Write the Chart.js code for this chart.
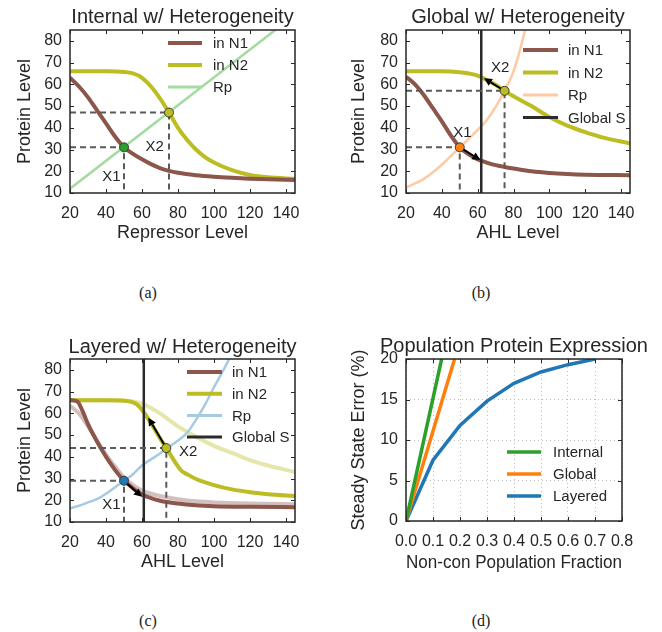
<!DOCTYPE html>
<html>
<head>
<meta charset="utf-8">
<script src="https://cdn.jsdelivr.net/npm/chart.js@4.4.1/dist/chart.umd.min.js"></script>
<style>
  body { margin:0; background:#fff; width:662px; height:632px; position:relative; overflow:hidden; }
  canvas { position:absolute; }
  .cap { position:absolute; font-family:"Liberation Serif","Times New Roman",serif; font-size:16px; color:#222; transform:translate(-50%,-50%); }
</style>
</head>
<body>
<canvas id="ca" width="331" height="265" style="left:0;top:0"></canvas>
<canvas id="cb" width="331" height="265" style="left:331px;top:0"></canvas>
<canvas id="cc" width="331" height="265" style="left:0;top:329px"></canvas>
<canvas id="cd" width="331" height="265" style="left:331px;top:329px"></canvas>
<div class="cap" style="left:148px;top:293px">(a)</div>
<div class="cap" style="left:481px;top:293px">(b)</div>
<div class="cap" style="left:148px;top:621px">(c)</div>
<div class="cap" style="left:481px;top:621px">(d)</div>
<script>
// ---- data (a) internal
const aN1x = [20,25,30,35,40,45,50,55,60,65,70,75,80,90,100,110,120,130,145];
const aN1y = [63,59,54,48,42,36,31,28,25.5,23.3,21.5,20.2,19.3,18.2,17.5,17,16.6,16.3,16];
const aN2x = [20,40,50,55,60,65,70,75,80,85,90,95,100,110,120,130,145];
const aN2y = [66,66,65.7,65,63,59,53.5,47,40,34.5,30,26.5,24,20.5,18.3,17.2,16.5];
const aRpx = [20,145];
const aRpy = [12,92];
const aMarks = [[50,31],[75,47]];
const aLabels = [['X1',43,17.5],['X2',67,31.3]];

// ---- data (b) global
const bN1x = [20,25,30,35,40,45,50,55,60,65,70,75,80,90,100,110,120,145];
const bN1y = [63.5,60,55,49,43,36.5,31,27.8,25.5,24,22.8,22,21.3,20,19.2,18.7,18.4,18.2];
const bN2x = [20,40,50,55,60,65,70,75,80,90,100,110,120,130,145];
const bN2y = [66,66,65.6,65,64,62,59.8,57,54.5,50,45,41,38,35.5,32.8];
const bRpx = [20,30,35,40,50,60,65,70,75,80,84,87];
const bRpy = [12.5,16.5,19.5,23,31,39,43.5,49.5,57,66,77,87];
const bGlobalS = 62;
const bMarks = [[50,31],[75,57]];
const bArrows = [[50,31,61.5,25.2],[75,57,63.5,62.8]];
const bLabels = [['X1',51.5,37.5],['X2',72.6,67.4]];

// ---- data (c) layered
const cN1x = [20,24,27,30,35,40,45,50,55,60,65,70,80,90,100,120,145];
const cN1y = [66,65.5,61,55,47,40,34,29,25.5,22.7,21,19.8,18.5,17.7,17.3,17,16.8];
const cN1fx = [20,25,30,35,40,45,50,55,60,65,70,80,90,100,120,145];
const cN1fy = [63.5,60,54,47.5,41,35.5,30.5,27,24.5,23,22,20.5,19.5,19,18.5,18.2];
const cN2x = [20,40,50,55,58,61,65,70,74,78,82,85,90,100,110,120,130,145];
const cN2y = [66,66,65.8,65,63.5,60.5,55.5,48.5,43.5,38,33.5,32,29.8,27,25,23.7,22.8,22];
const cN2fx = [20,45,55,60,65,70,75,80,90,100,110,120,130,145];
const cN2fy = [66,66,65.5,64.5,62.5,60,57,54,49.2,45,41.8,38.5,36,33];
const cRpx = [20,25,30,35,40,45,50,55,60,65,70,74,80,85,90,95,100,105,109];
const cRpy = [16.3,17.5,19,20.5,23,26,29,32,36,38.8,41.5,44,47.5,51,57,64,72,79.5,86];
const cGlobalS = 61;
const cMarks = [[50,29],[73.5,44]];
const cArrows = [[50,29,60,21.6],[73.5,44,63.5,58]];
const cLabels = [['X1',43,17.8],['X2',85.7,42.4]];

// ---- data (d) population
const dInternalX = [0,0.132];
const dInternalY = [0,20];
const dGlobalX = [0,0.18];
const dGlobalY = [0,20];
const dLayeredX = [0,0.1,0.2,0.3,0.4,0.5,0.6,0.7];
const dLayeredY = [0,7.5,11.8,14.8,17,18.4,19.3,20];

const FONT = "'Liberation Sans', Arial, Helvetica, sans-serif";
const INK = '#262626';
const BROWN = '#8c564b', OLIVE = '#bcbd22';
Chart.defaults.font.family = FONT;
Chart.defaults.color = INK;

const pts = (xs, ys) => xs.map((x, i) => ({x: x, y: ys[i]}));

function curve(label, xs, ys, color, width, order) {
  return {label: label, data: pts(xs, ys), borderColor: color, borderWidth: width, pointRadius: 0,
          cubicInterpolationMode: 'monotone', fill: false, order: order};
}
function polyline(label, xs, ys, color, width, order) {
  return {label: label, data: pts(xs, ys), borderColor: color, borderWidth: width, pointRadius: 0,
          tension: 0, fill: false, order: order};
}
function guide(x, y) {
  return {data: [{x: 20, y: y}, {x: x, y: y}, {x: x, y: 10}], borderColor: '#5a5a5a', borderWidth: 2,
          borderDash: [6, 4], pointRadius: 0, tension: 0, order: 1};
}
function vline(label, x) {
  return {label: label, data: [{x: x, y: 0}, {x: x, y: 100}], borderColor: '#2b2b2b', borderWidth: 2.5,
          pointRadius: 0, order: 2};
}
function marks(m, colors) {
  return {data: m.map(p => ({x: p[0], y: p[1]})), showLine: false, pointRadius: 4.5,
          pointBackgroundColor: colors, pointBorderColor: '#3a3a3a', pointBorderWidth: 1, order: 0};
}

const panelPlugin = {
  id: 'panel',
  afterDatasetsDraw(chart, args, o) {
    const {ctx, scales: {x, y}} = chart;
    ctx.save();
    ctx.strokeStyle = '#000'; ctx.fillStyle = '#000'; ctx.lineWidth = 2;
    (o.arrows || []).forEach(a => {
      const x0 = x.getPixelForValue(a[0]), y0 = y.getPixelForValue(a[1]);
      const x1 = x.getPixelForValue(a[2]), y1 = y.getPixelForValue(a[3]);
      const ang = Math.atan2(y1 - y0, x1 - x0);
      const sx = x0 + Math.cos(ang) * 4.5, sy = y0 + Math.sin(ang) * 4.5;
      const hl = 8, hw = 4;
      const bx = x1 - Math.cos(ang) * hl, by = y1 - Math.sin(ang) * hl;
      ctx.beginPath(); ctx.moveTo(sx, sy); ctx.lineTo(bx, by); ctx.stroke();
      ctx.beginPath();
      ctx.moveTo(x1, y1);
      ctx.lineTo(bx + Math.sin(ang) * hw, by - Math.cos(ang) * hw);
      ctx.lineTo(bx - Math.sin(ang) * hw, by + Math.cos(ang) * hw);
      ctx.closePath(); ctx.fill();
    });
    ctx.restore();
  },
  afterDraw(chart, args, o) {
    const {ctx, chartArea: a, scales: {x, y}} = chart;
    ctx.save();
    // frame with inward ticks
    ctx.strokeStyle = INK; ctx.lineWidth = 1.5;
    ctx.strokeRect(a.left, a.top, a.right - a.left, a.bottom - a.top);
    ctx.lineWidth = 1;
    ctx.beginPath();
    x.ticks.forEach(t => {
      const px = Math.round(x.getPixelForValue(t.value)) + 0.5;
      ctx.moveTo(px, a.bottom); ctx.lineTo(px, a.bottom - 4);
      ctx.moveTo(px, a.top); ctx.lineTo(px, a.top + 4);
    });
    y.ticks.forEach(t => {
      const py = Math.round(y.getPixelForValue(t.value)) + 0.5;
      ctx.moveTo(a.left, py); ctx.lineTo(a.left + 4, py);
      ctx.moveTo(a.right, py); ctx.lineTo(a.right - 4, py);
    });
    ctx.stroke();
    // title
    ctx.fillStyle = INK;
    ctx.textAlign = 'center'; ctx.textBaseline = 'middle';
    ctx.font = '20px ' + FONT;
    ctx.fillText(o.title, (a.left + a.right) / 2, o.titleY);
    // point labels
    ctx.font = '15px ' + FONT;
    (o.labels || []).forEach(l => ctx.fillText(l[0], x.getPixelForValue(l[1]), y.getPixelForValue(l[2])));
    // legend inside the axes
    const lg = o.legend;
    ctx.textAlign = 'left';
    lg.items.forEach((name, i) => {
      const ds = chart.data.datasets.find(d => d.label === name);
      const yy = lg.y + i * lg.dy;
      ctx.strokeStyle = ds.borderColor; ctx.lineWidth = Math.max(ds.borderWidth, 3);
      ctx.beginPath(); ctx.moveTo(lg.x0, yy); ctx.lineTo(lg.x1, yy); ctx.stroke();
      ctx.fillStyle = INK;
      ctx.fillText(name, lg.tx, yy + 1);
    });
    ctx.restore();
  }
};

function axis(g, which, opts) {
  const lh = 18 * 1.2 / 2;
  const base = {
    type: 'linear', min: opts.min, max: opts.max,
    grid: opts.grid || {display: false, drawTicks: false},
    border: opts.border || {display: false},
    ticks: {stepSize: opts.step, includeBounds: false, autoSkip: false, maxRotation: 0,
            padding: which === 'x' ? 11 : 8, font: {size: 16}, color: INK, callback: opts.fmt},
    title: {display: true, text: opts.title, font: {size: 18}, padding: 0, color: INK}
  };
  if (which === 'x') base.afterFit = s => { s.height = g.xTitleY + lh - g.bottom; };
  else base.afterFit = s => { s.width = g.left - (g.yTitleX - lh); };
  return base;
}

function panel(id, g, datasets, xo, yo, po) {
  const lh = 18 * 1.2 / 2;
  return new Chart(document.getElementById(id), {
    type: 'line',
    data: {datasets: datasets},
    options: {
      responsive: false, animation: false, events: [],
      layout: {padding: {left: g.yTitleX - lh, right: 331 - g.right, top: g.top, bottom: 265 - (g.xTitleY + lh)}},
      scales: {x: axis(g, 'x', xo), y: axis(g, 'y', yo)},
      plugins: {legend: {display: false}, tooltip: {enabled: false}, panel: Object.assign({titleY: g.titleY}, po)}
    },
    plugins: [panelPlugin]
  });
}

const protX = t => ({min: 20, max: 145, step: 20, title: t});
const protY = {min: 10, max: 85, step: 10, title: 'Protein Level'};

// (a)
panel('ca', {left:70, right:295, top:30, bottom:193, yTitleX:25, xTitleY:233, titleY:17}, [
  marks(aMarks, ['#2ca02c', OLIVE]),
  guide(aMarks[0][0], aMarks[0][1]),
  guide(aMarks[1][0], aMarks[1][1]),
  curve('in N1', aN1x, aN1y, BROWN, 4, 3),
  curve('in N2', aN2x, aN2y, OLIVE, 4, 4),
  curve('Rp', aRpx, aRpy, '#a3dba0', 2.5, 5)
], protX('Repressor Level'), protY, {
  title: 'Internal w/ Heterogeneity', labels: aLabels,
  legend: {items: ['in N1', 'in N2', 'Rp'], x0: 168, x1: 202, tx: 213, y: 43, dy: 22}
});

// (b)
panel('cb', {left:75, right:299, top:30, bottom:193, yTitleX:28, xTitleY:233, titleY:17}, [
  marks(bMarks, ['#ff7f0e', OLIVE]),
  guide(bMarks[0][0], bMarks[0][1]),
  guide(bMarks[1][0], bMarks[1][1]),
  vline('Global S', bGlobalS),
  curve('in N1', bN1x, bN1y, BROWN, 4, 3),
  curve('in N2', bN2x, bN2y, OLIVE, 4, 4),
  curve('Rp', bRpx, bRpy, '#ffc9a1', 2.5, 5)
], protX('AHL Level'), protY, {
  title: 'Global w/ Heterogeneity', labels: bLabels, arrows: bArrows,
  legend: {items: ['in N1', 'in N2', 'Rp', 'Global S'], x0: 192, x1: 227, tx: 237, y: 50, dy: 22.5}
});

// (c)
panel('cc', {left:70, right:295, top:30, bottom:193, yTitleX:25, xTitleY:233, titleY:18}, [
  marks(cMarks, ['#1f77b4', OLIVE]),
  guide(cMarks[0][0], cMarks[0][1]),
  guide(cMarks[1][0], cMarks[1][1]),
  vline('Global S', cGlobalS),
  curve('in N1', cN1x, cN1y, BROWN, 4, 3),
  curve('in N2', cN2x, cN2y, OLIVE, 4, 4),
  curve('Rp', cRpx, cRpy, '#a6cae2', 2.5, 5),
  curve('', cN1fx, cN1fy, 'rgba(140,86,75,0.38)', 4, 6),
  curve('', cN2fx, cN2fy, 'rgba(188,189,34,0.38)', 4, 6)
], protX('AHL Level'), protY, {
  title: 'Layered w/ Heterogeneity', labels: cLabels, arrows: cArrows,
  legend: {items: ['in N1', 'in N2', 'Rp', 'Global S'], x0: 187, x1: 222, tx: 232, y: 43, dy: 21.7}
});

// (d)
panel('cd', {left:75, right:291, top:30, bottom:192, yTitleX:28, xTitleY:234, titleY:17}, [
  polyline('Internal', dInternalX, dInternalY, '#2ca02c', 3.5, 1),
  polyline('Global', dGlobalX, dGlobalY, '#ff7f0e', 3.5, 2),
  polyline('Layered', dLayeredX, dLayeredY, '#1f77b4', 3.5, 3)
], {min: 0, max: 0.8, step: 0.1, title: 'Non-con Population Fraction', fmt: v => v.toFixed(1),
    grid: {color: '#bdbdbd', drawTicks: false, lineWidth: 1}, border: {display: false, dash: [1, 3]}},
   {min: 0, max: 20, step: 5, title: 'Steady State Error (%)',
    grid: {color: '#bdbdbd', drawTicks: false, lineWidth: 1}, border: {display: false, dash: [1, 3]}}, {
  title: 'Population Protein Expression',
  legend: {items: ['Internal', 'Global', 'Layered'], x0: 176, x1: 210, tx: 222, y: 123, dy: 22}
});
</script>
</body>
</html>
